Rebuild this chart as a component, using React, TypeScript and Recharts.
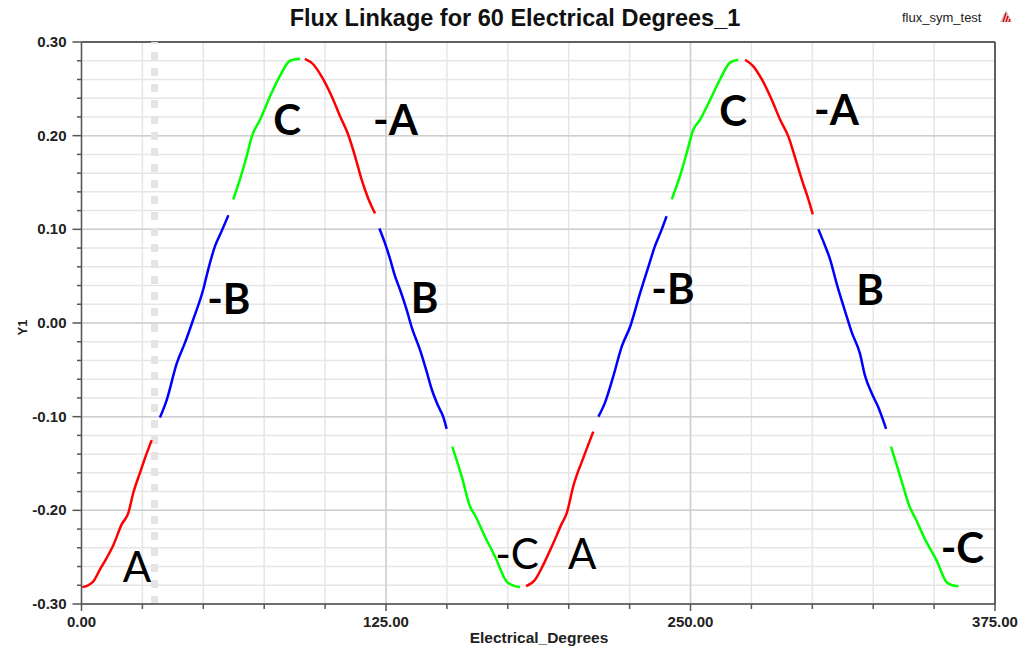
import { CartesianGrid, Line, LineChart, ReferenceDot, ReferenceLine, XAxis, YAxis } from "recharts";

type Pt = { x: number; y: number };
const pts = (rows: number[][]): Pt[] => rows.map(([x, y]) => ({ x, y }));

// phase segments of the flux linkage curve, 30 electrical degrees each
const segA1 = pts([[0.3, -0.282], [2.8, -0.28], [4.8, -0.276], [7.6, -0.263], [10.3, -0.251], [13.1, -0.237], [16.5, -0.215], [19.2, -0.203], [21.3, -0.181], [24, -0.16], [26.8, -0.139], [28.8, -0.125]]);
const segNegB1 = pts([[32.2, -0.101], [35, -0.082], [39.1, -0.043], [42.5, -0.021], [45.9, 0.004], [50, 0.036], [52, 0.057], [54.8, 0.082], [57.5, 0.098], [60.3, 0.115]]);
const segC1 = pts([[62.3, 0.132], [65, 0.153], [67.8, 0.178], [69.9, 0.199], [73.3, 0.217], [77.4, 0.242], [81.5, 0.264], [85.6, 0.28], [89.7, 0.282]]);
const segNegA1 = pts([[91.7, 0.282], [95.2, 0.276], [98.6, 0.263], [102.7, 0.242], [106.1, 0.221], [109.5, 0.201], [112.3, 0.178], [115, 0.153], [117.7, 0.133], [120.5, 0.117]]);
const segB1 = pts([[122.3, 0.101], [124.6, 0.085], [126.6, 0.069], [128.7, 0.05], [130.7, 0.036], [133.5, 0.014], [135.6, -0.005], [139, -0.029], [141.7, -0.052], [143.8, -0.071], [146.5, -0.089], [148.6, -0.101], [149.9, -0.113]]);
const segNegC1 = pts([[152.2, -0.132], [156.1, -0.164], [159.5, -0.196], [161.5, -0.205], [165.6, -0.228], [169.7, -0.249], [174.5, -0.276], [177, -0.28], [180, -0.282]]);
const segA2 = pts([[182.5, -0.281], [186.2, -0.274], [189.6, -0.258], [193.7, -0.235], [197, -0.215], [199.2, -0.203], [201.9, -0.174], [206, -0.144], [210.1, -0.116]]);
const segNegB2 = pts([[212.2, -0.1], [214.9, -0.085], [218.3, -0.057], [221.8, -0.025], [225.2, -0.004], [229.3, 0.032], [232.7, 0.06], [235.4, 0.082], [238.2, 0.1], [240.2, 0.114]]);
const segC2 = pts([[242.3, 0.132], [245.7, 0.157], [248.4, 0.181], [251.1, 0.206], [253.9, 0.217], [258, 0.238], [262.1, 0.26], [266.2, 0.278], [269.6, 0.281]]);
const segNegA2 = pts([[272.4, 0.281], [275.8, 0.274], [279.3, 0.26], [283.4, 0.238], [286.8, 0.217], [290.2, 0.199], [293, 0.176], [295.7, 0.153], [298.4, 0.132], [300.2, 0.116]]);
const segB2 = pts([[302.5, 0.1], [305, 0.084], [307.3, 0.068], [310, 0.042], [313.4, 0.013], [316.2, -0.01], [319.6, -0.033], [321.6, -0.056], [324.4, -0.075], [327.1, -0.09], [330.3, -0.113]]);
const segNegC2 = pts([[332.3, -0.132], [336, -0.163], [340.1, -0.197], [342.2, -0.208], [346.3, -0.231], [351.1, -0.254], [355.2, -0.277], [357.5, -0.28], [360, -0.281]]);

const segments: { id: string; data: Pt[]; color: string }[] = [
  { id: "A1", data: segA1, color: "#ff0000" },
  { id: "-B1", data: segNegB1, color: "#0000ff" },
  { id: "C1", data: segC1, color: "#00ff00" },
  { id: "-A1", data: segNegA1, color: "#ff0000" },
  { id: "B1", data: segB1, color: "#0000ff" },
  { id: "-C1", data: segNegC1, color: "#00ff00" },
  { id: "A2", data: segA2, color: "#ff0000" },
  { id: "-B2", data: segNegB2, color: "#0000ff" },
  { id: "C2", data: segC2, color: "#00ff00" },
  { id: "-A2", data: segNegA2, color: "#ff0000" },
  { id: "B2", data: segB2, color: "#0000ff" },
  { id: "-C2", data: segNegC2, color: "#00ff00" },
];

// phase names written next to each segment
const phaseLabels: { text: string; x: number; y: number; bold: boolean }[] = [
  { text: "A", x: 22.8, y: -0.26, bold: false },
  { text: "-B", x: 60.5, y: 0.026, bold: true },
  { text: "C", x: 84.4, y: 0.217, bold: true },
  { text: "-A", x: 128.9, y: 0.217, bold: true },
  { text: "B", x: 140.8, y: 0.027, bold: true },
  { text: "-C", x: 178.8, y: -0.247, bold: false },
  { text: "A", x: 205.5, y: -0.247, bold: false },
  { text: "C", x: 267.5, y: 0.226, bold: true },
  { text: "-A", x: 309.9, y: 0.227, bold: true },
  { text: "-B", x: 242.8, y: 0.036, bold: true },
  { text: "B", x: 323.7, y: 0.035, bold: true },
  { text: "-C", x: 361.6, y: -0.24, bold: true },
];

const xTicks = Array.from({ length: 16 }, (_, i) => i * 25);
const xMajor = [0, 125, 250, 375];
const yTicks = Array.from({ length: 31 }, (_, i) => Math.round((-0.3 + i * 0.02) * 100) / 100);
const yMajor = [-0.3, -0.2, -0.1, 0, 0.1, 0.2, 0.3];
const markerX = 30;

const axisFont = "'Liberation Sans', Arial, sans-serif";
const axisColor = "#555";

const XTick = ({ x, y, payload }: any) => {
  const major = xMajor.includes(payload.value);
  return (
    <g>
      <line x1={x} x2={x} y1={y} y2={y + (major ? 7 : 5)} stroke={axisColor} strokeWidth={1.5} />
      {major && (
        <text x={x} y={y + 23} textAnchor="middle" fontFamily={axisFont} fontWeight="bold" fontSize={15} fill="#222">
          {payload.value.toFixed(2)}
        </text>
      )}
    </g>
  );
};

const YTick = ({ x, y, payload }: any) => {
  const major = yMajor.some((v) => Math.abs(v - payload.value) < 1e-6);
  return (
    <g>
      <line x1={x} x2={x - (major ? 9 : 4.5)} y1={y} y2={y} stroke={axisColor} strokeWidth={1.5} />
      {major && (
        <text x={x - 15} y={y + 5} textAnchor="end" fontFamily={axisFont} fontWeight="bold" fontSize={15} fill="#222">
          {payload.value.toFixed(2)}
        </text>
      )}
    </g>
  );
};

const PhaseText = (label: { text: string; bold: boolean }) => (props: any) => (
  <text
    x={props.cx}
    y={props.cy}
    dy={15}
    textAnchor="middle"
    fontFamily="Lato, 'Open Sans', sans-serif"
    fontWeight={label.bold ? 700 : 400}
    fontSize={42}
    fill="#000"
  >
    {label.text}
  </text>
);

export default function App() {
  return (
    <div style={{ position: "absolute", left: 0, top: 0, width: 1019, height: 648, background: "#fff" }}>
      <LineChart width={1019} height={648} margin={{ top: 42, right: 24, bottom: 14, left: 21 }}>
        <CartesianGrid stroke="#e6e6e6" strokeWidth={1.5} />
        <XAxis
          dataKey="x"
          type="number"
          domain={[0, 375]}
          ticks={xTicks}
          interval={0}
          height={30}
          tickSize={0}
          tickMargin={0}
          tickLine={false}
          tick={<XTick />}
          axisLine={{ stroke: "#444", strokeWidth: 1.5 }}
          allowDataOverflow
        />
        <YAxis
          dataKey="y"
          type="number"
          domain={[-0.3, 0.3]}
          ticks={yTicks}
          interval={0}
          width={60.5}
          tickSize={0}
          tickMargin={0}
          tickLine={false}
          tick={<YTick />}
          axisLine={{ stroke: axisColor, strokeWidth: 1.5 }}
          allowDataOverflow
        />
        {xMajor.slice(1, 3).map((v) => (
          <ReferenceLine key={`gx${v}`} x={v} stroke="#cfcfcf" strokeWidth={1.5} />
        ))}
        {yMajor.slice(1, 6).map((v) => (
          <ReferenceLine key={`gy${v}`} y={v} stroke="#cfcfcf" strokeWidth={1.5} />
        ))}
        <ReferenceLine y={0.3} stroke="#333" strokeWidth={1.5} />
        <ReferenceLine x={375} stroke="#333" strokeWidth={1.5} />
        <ReferenceLine x={markerX} stroke="#e4e4e4" strokeWidth={7} strokeDasharray="8 8" />
        {segments.map((s) => (
          <Line
            key={s.id}
            data={s.data}
            dataKey="y"
            type="monotone"
            stroke={s.color}
            strokeWidth={2.5}
            dot={false}
            activeDot={false}
            isAnimationActive={false}
          />
        ))}
        {phaseLabels.map((l, i) => (
          <ReferenceDot key={`lbl${i}`} x={l.x} y={l.y} r={0} shape={PhaseText(l)} />
        ))}
      </LineChart>
      <div
        style={{
          position: "absolute",
          left: 0,
          width: 1030,
          top: 5,
          textAlign: "center",
          fontFamily: axisFont,
          fontWeight: "bold",
          fontSize: 23.5,
          color: "#111",
        }}
      >
        Flux Linkage for 60 Electrical Degrees_1
      </div>
      <div style={{ position: "absolute", left: 902, top: 10, fontFamily: axisFont, fontSize: 13, color: "#222" }}>
        flux_sym_test
      </div>
      <svg style={{ position: "absolute", left: 999, top: 9 }} width={14} height={14} viewBox="0 0 14 14">
        <polygon points="7,1 13,13 1,13" fill="#c8c8c8" />
        <line x1={4} y1={13} x2={7} y2={4} stroke="#e00" strokeWidth={1.4} />
        <line x1={7} y1={13} x2={9} y2={7} stroke="#e00" strokeWidth={1.4} />
        <line x1={10} y1={13} x2={11} y2={10} stroke="#e00" strokeWidth={1.4} />
      </svg>
      <div
        style={{
          position: "absolute",
          left: 15,
          top: 320,
          transform: "rotate(-90deg)",
          fontFamily: axisFont,
          fontWeight: "bold",
          fontSize: 13,
          color: "#222",
        }}
      >
        Y1
      </div>
      <div
        style={{
          position: "absolute",
          left: 0,
          width: 1078,
          top: 629,
          textAlign: "center",
          fontFamily: axisFont,
          fontWeight: "bold",
          fontSize: 15.5,
          color: "#222",
        }}
      >
        Electrical_Degrees
      </div>
    </div>
  );
}
